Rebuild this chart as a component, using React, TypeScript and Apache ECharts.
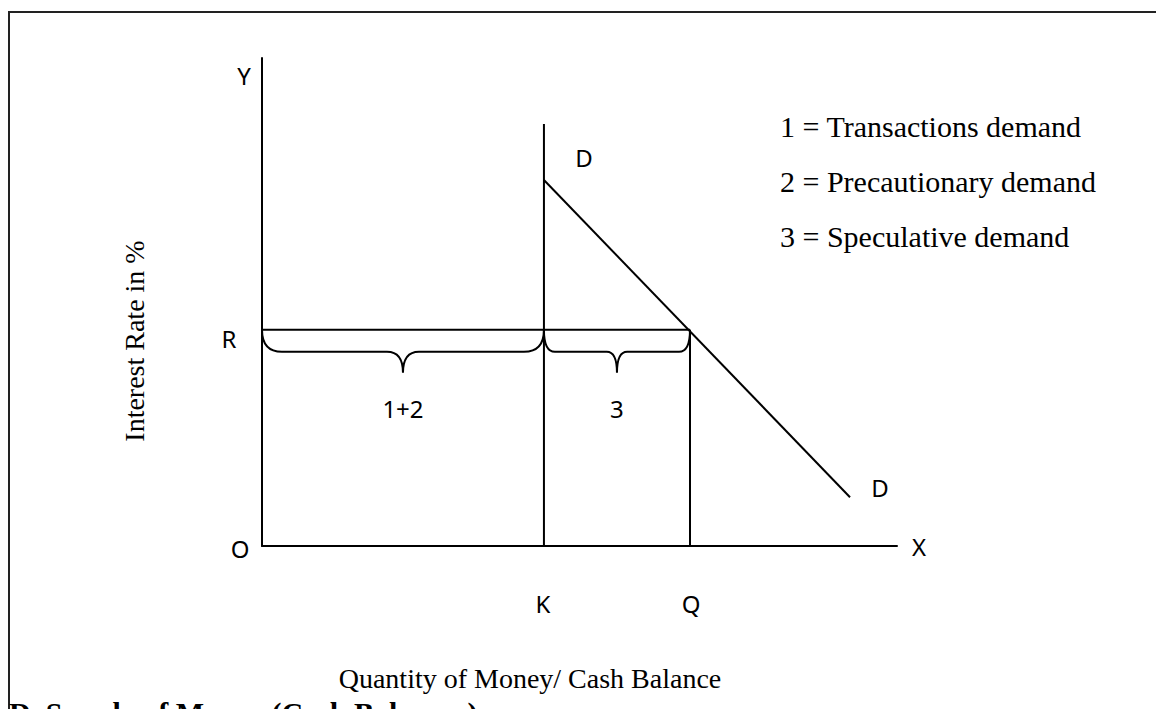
import React, { useEffect, useRef } from 'react';
import * as echarts from 'echarts';

// ---- data (axis units: both axes 0..100) ----
const X_MAX = 100;
const Y_MAX = 100;
const K_X = 44.4;          // K: transactions + precautionary balance
const Q_X = 67.4;          // Q: total money demanded at R
const R_Y = 44.3;          // R: interest rate
const K_TOP = 86.5;        // top of the vertical K line
const kLine = [[K_X, 0], [K_X, K_TOP]];
const rLine = [[0, R_Y], [Q_X, R_Y]];
const qLine = [[Q_X, 0], [Q_X, R_Y]];
const demandCurve = [[K_X, 75], [92.6, 10]];
const braces = [[0, K_X, R_Y], [K_X, Q_X, R_Y]];
const braceLabels = ['1+2', '3'];
const legendItems = ['1 = Transactions demand', '2 = Precautionary demand', '3 = Speculative demand'];
const yAxisTitle = 'Interest Rate in %';
const xAxisTitle = 'Quantity of Money/ Cash Balance';
const footerTitle = 'D. Supply of Money (Cash Balances)';

const SANS = '"Noto Sans", sans-serif';
const SERIF = '"Liberation Serif", "Times New Roman", serif';

function lineSeries(data: number[][]) {
  return {
    type: 'line',
    data,
    symbol: 'none',
    silent: true,
    lineStyle: { color: '#000', width: 2 },
  };
}

function bracePath(x0: number, x1: number, y0: number) {
  const w = x1 - x0;
  const rEnd = Math.min(20, w * 0.075);
  const rMid = Math.min(16, w * 0.07);
  const y1 = y0 + 22;
  const y2 = y0 + 43;
  const mid = (x0 + x1) / 2;
  return [
    `M${x0} ${y0}`,
    `Q${x0} ${y1} ${x0 + rEnd} ${y1}`,
    `L${mid - rMid} ${y1}`,
    `Q${mid} ${y1} ${mid} ${y2}`,
    `Q${mid} ${y1} ${mid + rMid} ${y1}`,
    `L${x1 - rEnd} ${y1}`,
    `Q${x1} ${y1} ${x1} ${y0}`,
  ].join(' ');
}

function label(text: string, x: number, y: number, opts: any = {}) {
  return {
    type: 'text',
    x,
    y,
    silent: true,
    style: {
      text,
      fill: '#000',
      font: opts.font || `24px ${SANS}`,
      align: opts.align || 'center',
      verticalAlign: 'middle',
    },
    rotation: opts.rotation || 0,
  };
}

export default function App() {
  const ref = useRef<HTMLDivElement>(null);
  useEffect(() => {
    if (!ref.current) return;
    const chart = echarts.init(ref.current, null, { renderer: 'svg' });
    const graphic: any[] = [
      { type: 'line', silent: true, shape: { x1: 8, y1: 12, x2: 1156, y2: 12 }, style: { stroke: '#222', lineWidth: 2 } },
      { type: 'line', silent: true, shape: { x1: 9, y1: 11, x2: 9, y2: 709 }, style: { stroke: '#222', lineWidth: 2 } },
      label('Y', 244, 75),
      label('R', 229, 338),
      label('O', 240, 548),
      label('D', 584, 157),
      label('D', 880, 487),
      label('X', 919, 546),
      label('K', 543, 603),
      label('Q', 691, 603),
      label(yAxisTitle, 134, 341, { font: `28px ${SERIF}`, rotation: Math.PI / 2 }),
      label(xAxisTitle, 530, 678, { font: `28px ${SERIF}` }),
      label(footerTitle, 9, 712, { font: `bold 30px ${SERIF}`, align: 'left' }),
      ...legendItems.map((t, i) => label(t, 780, 126 + i * 55, { font: `30px ${SERIF}`, align: 'left' })),
    ];
    chart.setOption({
      animation: false,
      backgroundColor: '#fff',
      grid: { left: 262, top: 58, width: 635, height: 488, containLabel: false },
      xAxis: {
        type: 'value', min: 0, max: X_MAX,
        axisLine: { show: true, onZero: false, lineStyle: { color: '#000', width: 2 } },
        axisTick: { show: false }, axisLabel: { show: false }, splitLine: { show: false },
      },
      yAxis: {
        type: 'value', min: 0, max: Y_MAX,
        axisLine: { show: true, onZero: false, lineStyle: { color: '#000', width: 2 } },
        axisTick: { show: false }, axisLabel: { show: false }, splitLine: { show: false },
      },
      series: [
        lineSeries(kLine),
        lineSeries(rLine),
        lineSeries(qLine),
        lineSeries(demandCurve),
        {
          type: 'custom',
          silent: true,
          data: braces,
          renderItem: (params: any, api: any) => {
            const p0 = api.coord([api.value(0), api.value(2)]);
            const p1 = api.coord([api.value(1), api.value(2)]);
            const mid = (p0[0] + p1[0]) / 2;
            return {
              type: 'group',
              children: [
                {
                  type: 'path',
                  shape: { pathData: bracePath(p0[0], p1[0], p0[1]) },
                  style: { stroke: '#000', fill: 'none', lineWidth: 2 },
                },
                {
                  type: 'text',
                  x: mid,
                  y: p0[1] + 79,
                  style: {
                    text: braceLabels[params.dataIndex],
                    fill: '#000',
                    font: `24px ${SANS}`,
                    align: 'center',
                    verticalAlign: 'middle',
                  },
                },
              ],
            };
          },
        },
      ],
      graphic,
    });
    return () => chart.dispose();
  }, []);
  return <div ref={ref} style={{ position: 'fixed', left: 0, top: 0, width: 1156, height: 709 }} />;
}
